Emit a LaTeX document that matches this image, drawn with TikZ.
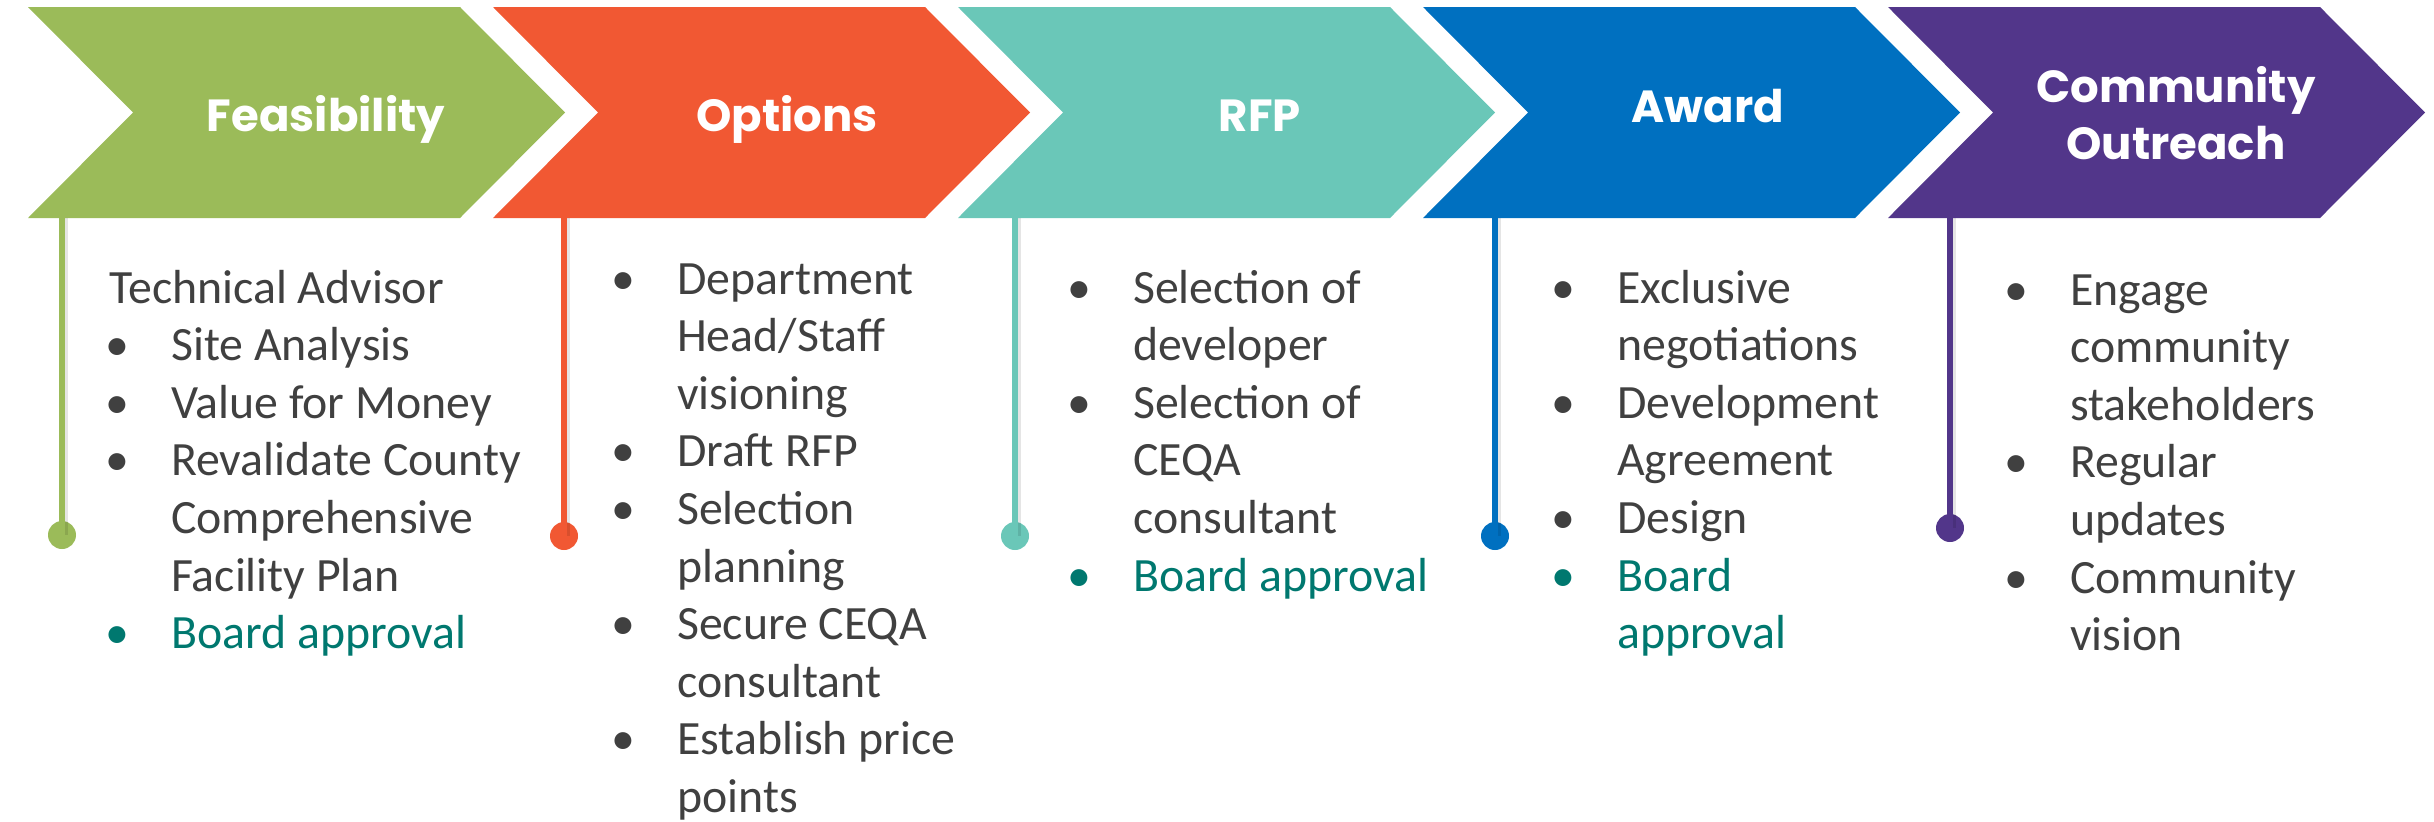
\documentclass[tikz,border=0pt]{standalone}
\usepackage{fontspec}
\setmainfont{Carlito}
\newfontfamily\titlefont{Poppins}
\definecolor{cGreen}{HTML}{9BBB59}
\definecolor{cRed}{HTML}{F15833}
\definecolor{cTeal}{HTML}{6AC7B8}
\definecolor{cBlue}{HTML}{0070C0}
\definecolor{cPurple}{HTML}{52368A}
\definecolor{txtgray}{HTML}{404040}
\definecolor{approve}{HTML}{00786F}
% bullet hung to the left of the text column
\newcommand\bul{\leavevmode\llap{\makebox[0pt][c]{\textbullet}\hspace{54pt}}}
\tikzset{
  chev/.style={fill=#1, draw=none},
  stem/.style={draw=#1, line width=5.5pt},
  stemshade/.style={draw=black, opacity=0.10, line width=4pt},
  dot/.style={circle, fill=#1, draw=none, minimum size=28pt, inner sep=0pt},
  title/.style={text=white, inner sep=0pt, anchor=base,
    font=\titlefont\bfseries\fontsize{45}{57}\selectfont},
  body/.style={inner sep=0pt, anchor=base west, text=txtgray,
    font=\fontsize{47.8}{57.6}\selectfont},
}
\begin{document}
\begin{tikzpicture}[x=1pt, y=-1pt]
\useasboundingbox (0,0) rectangle (2434,822);

% chevrons: left edge x, colour, name
\foreach \x/\c/\n in {28/cGreen/feas, 493/cRed/opt, 958/cTeal/rfp, 1423/cBlue/award, 1888/cPurple/comm}{
  \fill[chev=\c] (\x,7) -- (\x+432,7) -- (\x+537,112.5) -- (\x+432,218)
    -- (\x,218) -- (\x+105,112.5) -- cycle;
}

% stem tops on the chevron bottoms
\coordinate (sFeas)  at (62,218);
\coordinate (sOpt)   at (564,218);
\coordinate (sRfp)   at (1015,218);
\coordinate (sAward) at (1495,218);
\coordinate (sComm)  at (1950,218);

% end dots
\node[dot=cGreen]  (dFeas)  at (62,535) {};
\node[dot=cRed]    (dOpt)   at (564,536) {};
\node[dot=cTeal]   (dRfp)   at (1015,536) {};
\node[dot=cBlue]   (dAward) at (1495,536) {};
\node[dot=cPurple] (dComm)  at (1950,528) {};

% stems with a faint shade on the right
\foreach \s/\d/\c in {sFeas/dFeas/cGreen, sOpt/dOpt/cRed, sRfp/dRfp/cTeal, sAward/dAward/cBlue, sComm/dComm/cPurple}{
  \draw[stemshade] ([xshift=4pt]\s) -- ([xshift=4pt]\d.center);
  \draw[stem=\c] (\s) -- (\d.center);
}

% stage titles
\node[title] (tFeas)  at (326,131) {Feasibility};
\node[title] (tOpt)   at (787,131) {Options};
\node[title] (tRfp)   at (1260,131) {RFP};
\node[title] (tAward) at (1708,122) {Award};
\node[title] (tComm)  at (2176,102) {\parbox[t]{420pt}{\centering\baselineskip=57pt Community\\Outreach}};

% stage details
\node[body] (bFeas) at (171,303) {\parbox[t]{420pt}{\raggedright
  \leavevmode\hspace*{-62pt}Technical Advisor\\
  \bul Site Analysis\\
  \bul Value for Money\\
  \bul Revalidate County\\
  Comprehensive\\
  Facility Plan\\
  {\color{approve}\bul Board approval}}};

\node[body] (bOpt) at (677,294) {\parbox[t]{420pt}{\raggedright
  \bul Department\\
  Head/Staff\\
  visioning\\
  \bul Draft RFP\\
  \bul Selection\\
  planning\\
  \bul Secure CEQA\\
  consultant\\
  \bul Establish price\\
  points}};

\node[body] (bRfp) at (1133,303) {\parbox[t]{420pt}{\raggedright
  \bul Selection of\\
  developer\\
  \bul Selection of\\
  CEQA\\
  consultant\\
  {\color{approve}\bul Board approval}}};

\node[body] (bAward) at (1617,303) {\parbox[t]{420pt}{\raggedright
  \bul Exclusive\\
  negotiations\\
  \bul Development\\
  Agreement\\
  \bul Design\\
  {\color{approve}\bul Board\\
  approval}}};

\node[body] (bComm) at (2070,305) {\parbox[t]{360pt}{\raggedright
  \bul Engage\\
  community\\
  stakeholders\\
  \bul Regular\\
  updates\\
  \bul Community\\
  vision}};
\end{tikzpicture}
\end{document}
